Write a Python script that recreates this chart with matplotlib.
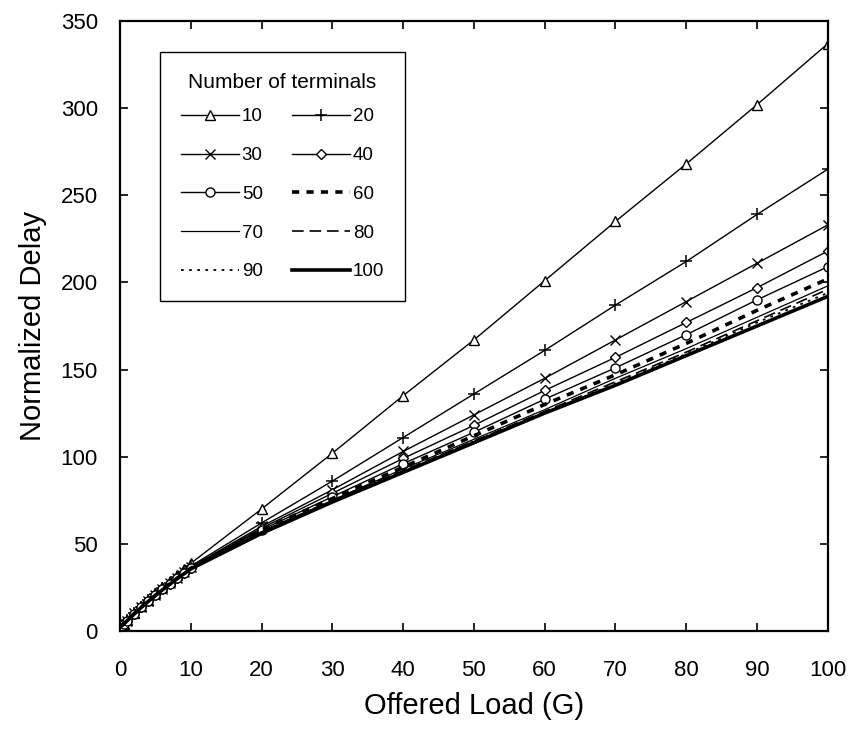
import matplotlib
matplotlib.use("Agg")
import matplotlib.pyplot as plt

plt.rcParams['font.family'] = ['Liberation Sans', 'DejaVu Sans']

# offered load G and normalized delay for each number of terminals
x_load = [0.1, 0.5, 1, 2, 3, 4, 5, 6, 7, 8, 9, 10, 20, 30, 40, 50, 60, 70, 80, 90, 100]

n10 = [2.6, 4.3, 6.2, 10.4, 14.3, 18.0, 21.6, 25.1, 28.6, 32.0, 35.4, 38.8, 70, 102, 135, 167, 201, 235, 268, 302, 337]
n20 = [2.6, 4.2, 6.1, 10.2, 14.0, 17.6, 21.1, 24.5, 27.8, 31.0, 34.1, 37.2, 62, 86, 111, 136, 161, 187, 212, 239, 265]
n30 = [2.5, 4.2, 6.0, 10.1, 13.9, 17.4, 20.8, 24.2, 27.4, 30.6, 33.7, 36.7, 60, 81, 103, 124, 145, 167, 189, 211, 233]
n40 = [2.5, 4.1, 6.0, 10.0, 13.8, 17.3, 20.7, 24.0, 27.2, 30.4, 33.4, 36.4, 59, 79, 99, 118, 138, 157, 177, 197, 218]
n50 = [2.5, 4.1, 5.9, 10.0, 13.7, 17.2, 20.6, 23.9, 27.1, 30.2, 33.2, 36.2, 58, 77, 96, 114, 133, 151, 170, 190, 209]
n60 = [2.5, 4.1, 5.9, 9.9, 13.7, 17.1, 20.5, 23.8, 27.0, 30.1, 33.1, 36.0, 58, 76, 94, 112, 130, 147, 165, 184, 202]
n70 = [2.5, 4.1, 5.9, 9.9, 13.6, 17.1, 20.5, 23.7, 26.9, 30.0, 33.0, 35.9, 57, 75, 93, 110, 127, 145, 162, 180, 198]
n80 = [2.5, 4.0, 5.9, 9.9, 13.6, 17.0, 20.4, 23.7, 26.8, 29.9, 32.9, 35.8, 57, 75, 92, 109, 126, 143, 160, 178, 196]
n90 = [2.5, 4.0, 5.8, 9.8, 13.6, 17.0, 20.4, 23.6, 26.8, 29.8, 32.8, 35.7, 56, 74, 92, 109, 125, 142, 159, 177, 194]
n100 = [2.5, 4.0, 5.8, 9.8, 13.5, 17.0, 20.3, 23.6, 26.7, 29.8, 32.7, 35.6, 56, 74, 91, 108, 125, 141, 158, 175, 192]

terminals = ["10", "20", "30", "40", "50", "60", "70", "80", "90", "100"]
series = [n10, n20, n30, n40, n50, n60, n70, n80, n90, n100]

styles = [
    dict(lw=1.0, marker="^", ms=7),
    dict(lw=1.0, marker="+", ms=8, mew=1.1),
    dict(lw=1.0, marker="x", ms=7, mew=1.0),
    dict(lw=1.0, marker="D", ms=5),
    dict(lw=1.0, marker="o", ms=6.5),
    dict(lw=2.6, dashes=(2.0, 2.0)),
    dict(lw=0.9),
    dict(lw=1.2, dashes=(7, 3.5)),
    dict(lw=1.3, dashes=(1.5, 3.0)),
    dict(lw=2.6),
]

fig = plt.figure(figsize=(8.57, 7.35), dpi=100)
ax = fig.add_axes([0.140, 0.1415, 0.826, 0.830])

handles = []
for name, ys, st in zip(terminals, series, styles):
    h, = ax.plot(x_load, ys, color="black", mfc="white", mec="black",
                 label=name, **st)
    handles.append(h)

ax.set_xlim(0, 100)
ax.set_ylim(0, 350)
ax.set_xticks(range(0, 101, 10))
ax.set_yticks(range(0, 351, 50))
ax.tick_params(direction="in", length=6, width=1.2, top=True, right=True,
               labelsize=16)
ax.tick_params(axis="x", pad=21)
ax.tick_params(axis="y", pad=16)
for sp in ax.spines.values():
    sp.set_linewidth(1.6)

ax.set_xlabel("Offered Load (G)", fontsize=21, labelpad=8)
ax.set_ylabel("Normalized Delay", fontsize=21, labelpad=10)

# two columns, filled row by row: 10 20 / 30 40 / ...
order = [0, 2, 4, 6, 8, 1, 3, 5, 7, 9]
leg = ax.legend([handles[i] for i in order], [terminals[i] for i in order],
                ncols=2, title="Number of terminals", title_fontsize=15,
                fontsize=13.5, loc="upper left", borderaxespad=0,
                bbox_to_anchor=(0.0565, 0.949), numpoints=1,
                handlelength=3.1, handletextpad=0.16, columnspacing=1.55,
                labelspacing=1.15, borderpad=1.1, fancybox=False,
                edgecolor="black", framealpha=1)
leg.get_frame().set_linewidth(1.0)
leg._legend_box.sep = 12

fig.savefig("out.png", dpi=100)
